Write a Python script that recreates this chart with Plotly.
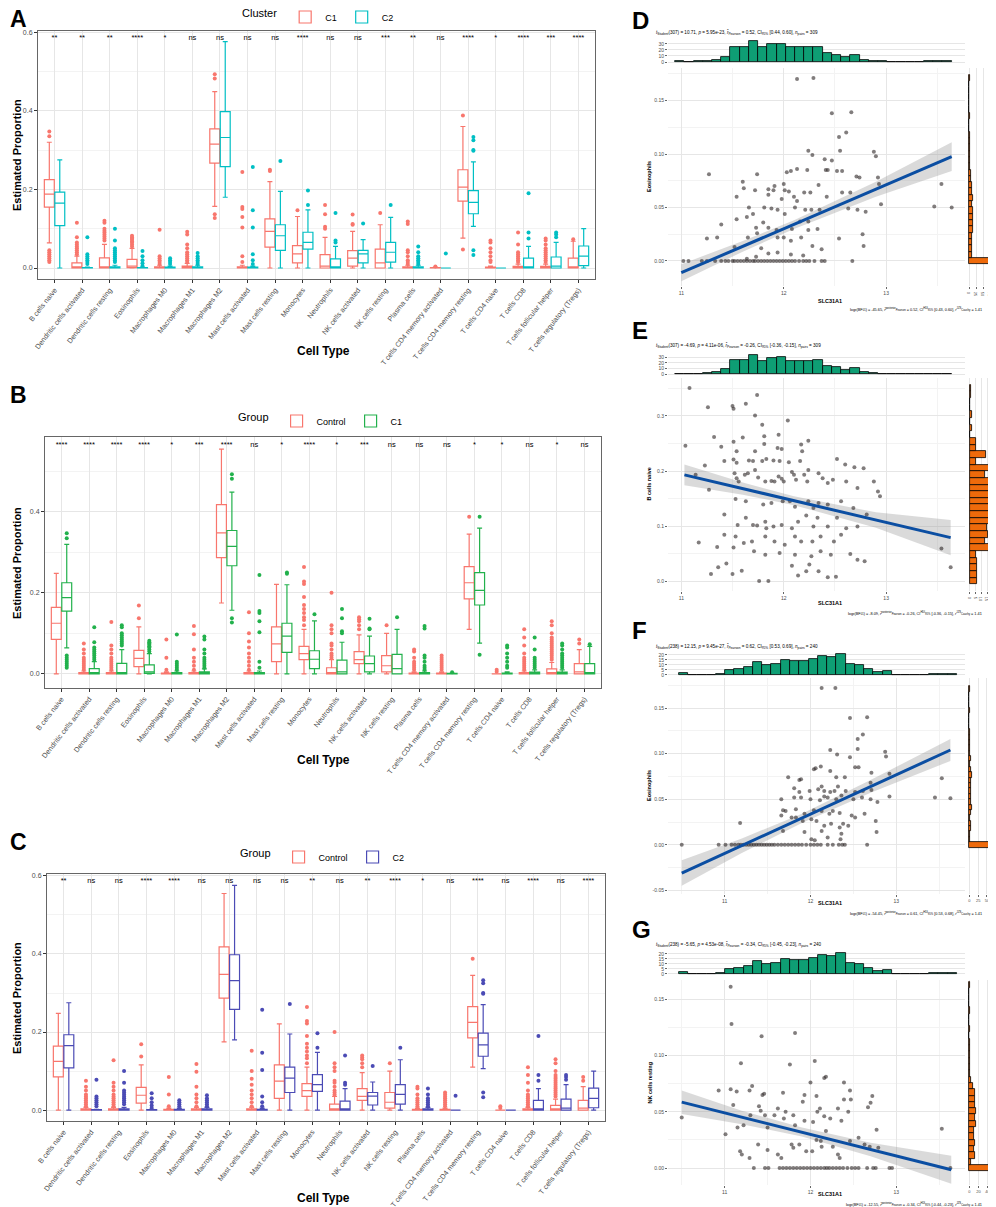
import plotly.graph_objects as go

W, H = 996, 1207
FONT = "Liberation Sans, Arial, sans-serif"

# ---------------- box plot data (A, B, C) ----------------
CELL_TYPES = ["B cells naive", "Dendritic cells activated", "Dendritic cells resting", "Eosinophils",
              "Macrophages M0", "Macrophages M1", "Macrophages M2", "Mast cells activated",
              "Mast cells resting", "Monocytes", "Neutrophils", "NK cells activated", "NK cells resting",
              "Plasma cells", "T cells CD4 memory activated", "T cells CD4 memory resting",
              "T cells CD4 naive", "T cells CD8", "T cells follicular helper", "T cells regulatory (Tregs)"]

SIG_A = ["**", "**", "**", "****", "*", "ns", "ns", "ns", "ns", "****", "ns", "ns", "***", "**", "ns",
         "****", "*", "****", "***", "****"]
SIG_B = ["****", "****", "****", "****", "*", "***", "****", "ns", "*", "****", "*", "***", "ns", "ns", "ns",
         "*", "*", "ns", "*", "ns"]
SIG_C = ["**", "ns", "ns", "****", "****", "ns", "ns", "ns", "ns", "**", "ns", "**", "****", "*", "ns",
         "****", "ns", "****", "ns", "****"]

# quartiles / whiskers per cell type
C1_Q1 = [0.155, 0, 0, 0.001, 0, 0, 0.267, 0, 0.053, 0.013, 0, 0.005, 0, 0, 0, 0.17, 0, 0, 0, 0]
C1_MED = [0.188, 0.003, 0.003, 0.005, 0, 0, 0.315, 0, 0.093, 0.036, 0.005, 0.025, 0.013, 0, 0, 0.206, 0, 0, 0, 0.003]
C1_Q3 = [0.225, 0.013, 0.026, 0.022, 0.003, 0.005, 0.354, 0.003, 0.125, 0.057, 0.034, 0.044, 0.048, 0.003, 0.001,
         0.25, 0.002, 0.004, 0.004, 0.025]
C1_LO = [0.064, 0, 0, 0, 0, 0, 0.157, 0, 0, 0, 0, 0, 0, 0, 0, 0.076, 0, 0, 0, 0]
C1_HI = [0.32, 0.03, 0.06, 0.05, 0.007, 0.012, 0.449, 0.007, 0.22, 0.131, 0.078, 0.093, 0.11, 0.007, 0.002,
         0.36, 0.005, 0.01, 0.01, 0.068]
C1_OUT = [[0.347, 0.335, 0.045, 0.04, 0.035, 0.03, 0.025, 0.02, 0.015],
          [0.115, 0.078, 0.065, 0.06, 0.055, 0.05, 0.045, 0.04, 0.035],
          [0.12, 0.115, 0.1, 0.095, 0.09, 0.085, 0.08, 0.075, 0.07],
          [0.082, 0.078, 0.075, 0.072, 0.068, 0.065, 0.06, 0.055],
          [0.097, 0.03, 0.025, 0.02, 0.015, 0.01],
          [0.092, 0.085, 0.06, 0.05, 0.04, 0.035, 0.03, 0.025, 0.02, 0.015],
          [0.493, 0.482, 0.137, 0.127],
          [0.244, 0.155, 0.15, 0.13, 0.103, 0.03, 0.015],
          [0.25, 0.247],
          [0.147],
          [0.16, 0.137, 0.105, 0.1],
          [0.136, 0.112, 0.11],
          [0.14],
          [0.118, 0.112, 0.045, 0.04, 0.03, 0.02, 0.015, 0.01],
          [0.004],
          [0.388, 0.047],
          [0.07, 0.065, 0.05, 0.04, 0.03, 0.02, 0.015],
          [0.09, 0.06, 0.04, 0.035, 0.03, 0.025, 0.02, 0.015],
          [0.075, 0.07, 0.06, 0.05, 0.045, 0.04, 0.035, 0.03, 0.025, 0.02, 0.015],
          [0.073]]

C2_Q1 = [0.108, 0, 0, 0, 0, 0, 0.258, 0, 0.045, 0.048, 0, 0.013, 0.015, 0, 0, 0.138, 0, 0, 0, 0.006]
C2_MED = [0.165, 0, 0, 0, 0, 0, 0.332, 0, 0.082, 0.065, 0.003, 0.036, 0.04, 0, 0, 0.167, 0, 0.003, 0.005, 0.03]
C2_Q3 = [0.193, 0.001, 0.003, 0.001, 0.002, 0.003, 0.398, 0.002, 0.11, 0.091, 0.023, 0.045, 0.065, 0.003, 0,
         0.197, 0, 0.025, 0.028, 0.056]
C2_LO = [0, 0, 0, 0, 0, 0, 0.18, 0, 0, 0, 0, 0, 0, 0, 0, 0.106, 0, 0, 0, 0]
C2_HI = [0.275, 0.002, 0.007, 0.002, 0.005, 0.007, 0.576, 0.005, 0.195, 0.148, 0.055, 0.072, 0.129, 0.007, 0,
         0.27, 0, 0.055, 0.065, 0.1]
C2_OUT = [[],
          [0.078, 0.035, 0.03, 0.025, 0.02, 0.015, 0.01],
          [0.1, 0.07, 0.05, 0.045, 0.04, 0.035, 0.03, 0.025, 0.02, 0.015],
          [0.043, 0.03, 0.02, 0.012, 0.005],
          [0.025, 0.02, 0.015, 0.01],
          [0.038, 0.03, 0.025, 0.02, 0.015, 0.01],
          [],
          [0.257, 0.147, 0.103, 0.035, 0.02, 0.01],
          [0.272],
          [0.16, 0.197],
          [0.14, 0.07, 0.065],
          [0.113],
          [0.16],
          [0.055, 0.04, 0.03, 0.025, 0.02, 0.015, 0.01],
          [0.037],
          [0.333, 0.325, 0.3, 0.298, 0.045, 0.033],
          [],
          [0.19, 0.09, 0.075],
          [0.09, 0.085, 0.078],
          []]

CTRL_Q1 = [0.085, 0, 0, 0.018, 0, 0, 0.287, 0, 0.03, 0.035, 0, 0.025, 0.005, 0, 0, 0.185, 0, 0, 0, 0]
CTRL_MED = [0.125, 0, 0, 0.038, 0, 0, 0.348, 0, 0.074, 0.05, 0.003, 0.035, 0.02, 0, 0, 0.225, 0, 0, 0.003, 0.005]
CTRL_Q3 = [0.164, 0.003, 0.003, 0.058, 0.002, 0.003, 0.418, 0.003, 0.116, 0.068, 0.015, 0.055, 0.045, 0.002,
           0.002, 0.265, 0, 0.003, 0.012, 0.025]
CTRL_LO = [0, 0, 0, 0, 0, 0, 0.175, 0, 0, 0, 0, 0, 0, 0, 0, 0.11, 0, 0, 0, 0]
CTRL_HI = [0.248, 0.007, 0.007, 0.116, 0.005, 0.007, 0.555, 0.007, 0.221, 0.11, 0.035, 0.096, 0.1, 0.005,
           0.005, 0.345, 0, 0.007, 0.028, 0.06]
CTRL_OUT = [[],
            [0.075, 0.06, 0.05, 0.04, 0.035, 0.03, 0.025, 0.02, 0.015, 0.01],
            [0.128, 0.07, 0.06, 0.05, 0.04, 0.035, 0.03, 0.025, 0.02, 0.015, 0.01],
            [0.169, 0.137],
            [0.085, 0.04, 0.01],
            [0.118, 0.098, 0.06, 0.04, 0.03, 0.02, 0.01],
            [],
            [0.152, 0.1, 0.08, 0.065, 0.05, 0.04, 0.03, 0.02, 0.01],
            [],
            [0.264, 0.228, 0.222, 0.19, 0.17, 0.16, 0.15, 0.14, 0.133, 0.12],
            [0.2, 0.12, 0.11, 0.1, 0.075, 0.07, 0.06, 0.05, 0.045, 0.04],
            [0.14, 0.135, 0.13, 0.12, 0.11],
            [0.12],
            [0.06, 0.055, 0.04, 0.03, 0.025, 0.02, 0.015, 0.01],
            [0.045, 0.04, 0.035, 0.03, 0.025, 0.02, 0.015, 0.01],
            [0.388],
            [0.01, 0.005],
            [0.11, 0.09, 0.07, 0.05, 0.04, 0.035, 0.03, 0.025, 0.02, 0.015, 0.01],
            [0.13, 0.12, 0.1, 0.09, 0.085, 0.08, 0.075, 0.07, 0.065, 0.06, 0.055, 0.05, 0.045, 0.04, 0.035],
            [0.085, 0.075]]

# ---------------- scatter data (D, E, F, G) ----------------
D_X = [12.13, 12.29, 12.47, 12.66, 12.54, 12.61, 12.24, 12.28, 12.47, 12.55, 12.88, 12.90,
       11.27, 11.74, 12.07, 12.03, 12.13, 12.41, 12.43, 12.52, 12.57, 12.40, 12.23,
       11.60, 11.61, 11.54, 11.72, 11.85, 11.91, 11.90, 12.00, 12.01, 12.05, 12.10, 12.13, 12.20, 12.26,
       12.34, 12.42, 12.57, 12.65, 12.71, 12.74, 12.92, 12.93, 12.95,
       12.80, 12.72, 12.63, 12.35, 12.27, 12.21, 11.94, 11.88, 11.81, 11.66,
       11.54, 11.64, 11.80, 11.73, 11.74, 11.65, 11.52, 11.35, 11.25, 11.39,
       11.93, 12.00, 12.08, 12.17, 12.24, 12.33, 12.54, 12.77, 12.78,
       12.37, 12.28, 12.19, 12.07, 11.94, 11.85, 11.78, 11.73, 11.64,
       13.54, 13.47, 13.64,
       11.85, 11.98, 12.11, 12.16, 12.01, 11.70, 11.85, 11.94, 12.07, 12.24]
D_Y = [0.170, 0.171, 0.138, 0.139, 0.116, 0.120, 0.103, 0.099, 0.094, 0.103, 0.102, 0.098,
       0.081, 0.081, 0.084, 0.083, 0.086, 0.085, 0.085, 0.084, 0.084, 0.095, 0.085,
       0.074, 0.068, 0.060, 0.066, 0.067, 0.070, 0.066, 0.072, 0.066, 0.065, 0.060, 0.056, 0.064, 0.064,
       0.071, 0.060, 0.064, 0.064, 0.079, 0.078, 0.078, 0.072, 0.053,
       0.046, 0.048, 0.049, 0.048, 0.048, 0.048, 0.048, 0.049, 0.050, 0.050,
       0.039, 0.041, 0.036, 0.031, 0.026, 0.022, 0.013, 0.022, 0.021, 0.034,
       0.029, 0.022, 0.030, 0.022, 0.029, 0.030, 0.021, 0.025, 0.014,
       0.011, 0.014, 0.005, 0.006, 0.008, 0.007, 0.012, 0.004, 0.002,
       0.072, 0.051, 0.050,
       0.062, 0.058, 0.050, 0.037, 0.044, 0.044, 0.031, 0.022, 0.019, 0.037]
D_ZERO_X = [11.02, 11.07, 11.20, 11.25, 11.33, 11.39, 11.43, 11.46, 11.50, 11.52, 11.55, 11.58, 11.61,
            11.64, 11.67, 11.70, 11.72, 11.75, 11.78, 11.81, 11.84, 11.87, 11.90, 11.93, 11.96, 11.99,
            12.02, 12.05, 12.08, 12.11, 12.15, 12.19, 12.22, 12.25, 12.30, 12.37, 12.40, 12.67]
D_ZERO_Y = [0.0, 0.0, 0.0, 0.0, 0.0, 0.0, 0.0, 0.0, 0.0, 0.0, 0.0, 0.0, 0.0,
            0.0, 0.0, 0.0, 0.0, 0.0, 0.0, 0.0, 0.0, 0.0, 0.0, 0.0, 0.0, 0.0,
            0.0, 0.0, 0.0, 0.0, 0.0, 0.0, 0.0, 0.0, 0.0, 0.0, 0.0, 0.0]

E_X = [11.08, 11.74, 11.26, 11.50, 11.51, 11.63, 11.72, 11.79, 12.04, 11.32, 11.51, 11.60, 11.81, 11.95,
       11.04, 11.39, 11.54, 11.81, 11.94, 11.98, 12.18, 12.24, 12.17, 11.72,
       11.23, 11.42, 11.51, 11.54, 11.66, 11.70, 11.79, 11.83, 11.90, 11.96, 12.05, 12.16, 12.52, 12.60,
       12.69, 12.78,
       11.14, 11.27, 11.52, 11.54, 11.56, 11.62, 11.65, 11.72, 11.75, 11.82, 11.88, 11.91, 11.95, 11.98,
       12.00, 12.08, 12.10, 12.12, 12.20, 12.24, 12.23, 12.34, 12.38, 12.43, 12.48, 12.61, 12.72, 12.88,
       12.92, 12.94,
       11.53, 11.63, 11.80, 11.88, 11.99, 12.06, 12.11, 12.24, 12.29, 12.34, 12.43, 12.56, 12.68, 12.81,
       11.42, 11.55, 11.63, 11.70, 11.74, 11.82, 11.83, 11.90, 11.98, 12.08, 12.14, 12.22, 12.29, 12.33,
       12.43, 12.52, 12.61, 12.72,
       11.42, 11.53, 11.61, 11.69, 11.82, 11.91, 12.01, 12.11, 12.17, 12.28, 12.36, 12.49, 12.56,
       11.17, 11.35, 11.51, 11.71, 11.82, 11.96, 12.11, 12.27, 12.36, 12.46, 12.65, 12.72, 12.79, 13.54,
       11.36, 11.44, 11.29, 11.50, 11.59, 11.76, 11.85, 12.08, 12.14, 12.22, 12.34, 12.43, 12.51, 12.25,
       13.63]
E_Y = [0.351, 0.338, 0.316, 0.318, 0.313, 0.322, 0.301, 0.284, 0.292, 0.262, 0.253, 0.261, 0.263, 0.266,
       0.246, 0.244, 0.236, 0.249, 0.242, 0.240, 0.236, 0.255, 0.248, 0.236,
       0.210, 0.218, 0.221, 0.215, 0.219, 0.218, 0.218, 0.222, 0.219, 0.218, 0.216, 0.218, 0.222, 0.212,
       0.207, 0.205,
       0.193, 0.166, 0.196, 0.187, 0.181, 0.193, 0.196, 0.202, 0.188, 0.181, 0.182, 0.181, 0.190, 0.186,
       0.181, 0.198, 0.193, 0.184, 0.193, 0.202, 0.181, 0.196, 0.187, 0.178, 0.184, 0.181, 0.169, 0.181,
       0.163, 0.154,
       0.149, 0.145, 0.139, 0.142, 0.145, 0.145, 0.135, 0.145, 0.133, 0.142, 0.139, 0.145, 0.133, 0.121,
       0.121, 0.102, 0.115, 0.102, 0.101, 0.108, 0.096, 0.099, 0.102, 0.096, 0.108, 0.119, 0.099, 0.115,
       0.099, 0.115, 0.096, 0.099,
       0.084, 0.081, 0.069, 0.072, 0.081, 0.072, 0.066, 0.081, 0.072, 0.072, 0.081, 0.072, 0.084,
       0.070, 0.062, 0.061, 0.054, 0.048, 0.051, 0.048, 0.045, 0.054, 0.048, 0.049, 0.039, 0.036, 0.059,
       0.025, 0.032, 0.013, 0.013, 0.019, 0.0, 0.0, 0.028, 0.010, 0.018, 0.018, 0.007, 0.008, 0.030,
       0.025]

F_X = [12.13, 12.29, 12.46, 12.66, 12.61, 12.55, 12.23, 12.31, 12.46, 12.55, 12.87, 12.88,
       12.04, 12.06, 12.12, 12.23, 12.30, 12.40, 12.52, 12.56, 12.71, 12.92,
       11.74, 11.87, 11.89, 12.70, 13.53,
       11.81, 11.87, 11.99, 12.09, 12.13, 12.16, 12.23, 12.28, 12.32, 12.41, 12.52, 12.61, 12.71,
       11.66, 11.81, 11.89, 12.00, 12.11, 12.16, 12.20, 12.30, 12.36, 12.50, 12.60, 12.70, 12.78, 12.92,
       13.45, 13.63,
       11.68, 11.71, 11.83, 11.93, 12.04, 12.13, 12.22, 12.26, 12.34, 12.48, 12.63,
       11.18, 11.66, 11.78, 11.83, 11.91, 12.01, 12.07, 12.16, 12.24, 12.34, 12.38, 12.44, 12.52, 12.76,
       12.77,
       11.68, 11.93, 12.01, 12.05, 12.13, 12.20, 12.35, 12.36]
F_Y = [0.172, 0.172, 0.139, 0.140, 0.121, 0.116, 0.104, 0.099, 0.096, 0.105, 0.102, 0.097,
       0.083, 0.084, 0.086, 0.081, 0.074, 0.074, 0.085, 0.085, 0.079, 0.078,
       0.074, 0.071, 0.072, 0.068, 0.073,
       0.062, 0.058, 0.059, 0.061, 0.064, 0.059, 0.058, 0.059, 0.064, 0.059, 0.058, 0.059, 0.060,
       0.050, 0.052, 0.052, 0.050, 0.049, 0.053, 0.052, 0.050, 0.054, 0.050, 0.052, 0.050, 0.047, 0.053,
       0.052, 0.051,
       0.038, 0.037, 0.039, 0.034, 0.038, 0.037, 0.034, 0.037, 0.035, 0.032, 0.034,
       0.024, 0.032, 0.030, 0.030, 0.026, 0.028, 0.026, 0.021, 0.023, 0.019, 0.023, 0.021, 0.030, 0.026,
       0.014,
       0.015, 0.014, 0.006, 0.005, 0.015, 0.008, 0.006, 0.012]
F_ZERO_X = [10.50, 10.93, 11.01, 11.08, 11.12, 11.16, 11.19, 11.22, 11.25, 11.28, 11.31, 11.34, 11.37,
            11.40, 11.43, 11.46, 11.49, 11.52, 11.55, 11.58, 11.62, 11.66, 11.70, 11.74, 11.78, 11.82,
            11.86, 11.90, 11.95, 12.00, 12.04, 12.08, 12.12, 12.20, 12.26, 12.33, 12.37, 12.40, 12.66]
F_ZERO_Y = [0.0, 0.0, 0.0, 0.0, 0.0, 0.0, 0.0, 0.0, 0.0, 0.0, 0.0, 0.0, 0.0,
            0.0, 0.0, 0.0, 0.0, 0.0, 0.0, 0.0, 0.0, 0.0, 0.0, 0.0, 0.0, 0.0,
            0.0, 0.0, 0.0, 0.0, 0.0, 0.0, 0.0, 0.0, 0.0, 0.0, 0.0, 0.0, 0.0]

G_X = [11.07, 11.08, 11.43, 11.82,
       11.19, 11.76, 12.05, 12.18, 12.16,
       12.00, 12.39, 10.93, 11.07, 11.14, 11.29, 11.32, 11.44, 11.46, 11.68, 11.93, 12.07, 12.46, 12.47,
       12.70, 12.72,
       10.50, 11.01, 11.10, 11.15, 11.22, 11.30, 11.40, 11.42, 11.47, 11.50, 11.58, 11.62, 11.69, 11.71,
       11.80, 11.82, 11.91, 11.93, 12.03, 12.08, 12.11, 12.16, 12.23, 12.32, 12.36, 12.39, 12.44, 12.67,
       12.77, 13.53,
       11.18, 11.20, 11.29, 11.39, 11.50, 11.62, 11.66, 11.78, 11.80, 11.87, 11.95, 12.02, 12.07, 12.13,
       12.18, 12.26, 12.32, 12.34, 12.46, 12.56, 12.63, 12.69, 12.79, 12.12]
G_Y = [0.161, 0.128, 0.117, 0.120,
       0.093, 0.092, 0.095, 0.081, 0.080,
       0.076, 0.076, 0.069, 0.070, 0.068, 0.069, 0.073, 0.065, 0.066, 0.067, 0.065, 0.064, 0.069, 0.061,
       0.058, 0.064,
       0.045, 0.030, 0.056, 0.036, 0.038, 0.047, 0.055, 0.051, 0.047, 0.036, 0.047, 0.053, 0.044, 0.050,
       0.047, 0.038, 0.059, 0.042, 0.041, 0.050, 0.053, 0.046, 0.044, 0.053, 0.042, 0.061, 0.050, 0.054,
       0.034, 0.035,
       0.015, 0.012, 0.009, 0.021, 0.016, 0.012, 0.009, 0.021, 0.018, 0.021, 0.015, 0.015, 0.025, 0.019,
       0.033, 0.019, 0.012, 0.009, 0.024, 0.027, 0.021, 0.019, 0.018, 0.024]
G_ZERO_X = [11.34, 11.47, 11.51, 11.64, 11.68, 11.72, 11.76, 11.80, 11.84, 11.88, 11.92, 11.96, 12.00,
            12.04, 12.08, 12.12, 12.16, 12.19, 12.22, 12.26, 12.30, 12.34, 12.38, 12.43, 12.48, 12.52,
            12.56, 12.66, 12.73, 12.76, 12.92, 12.95, 13.63]
G_ZERO_Y = [0.0, 0.0, 0.0, 0.0, 0.0, 0.0, 0.0, 0.0, 0.0, 0.0, 0.0, 0.0, 0.0,
            0.0, 0.0, 0.0, 0.0, 0.0, 0.0, 0.0, 0.0, 0.0, 0.0, 0.0, 0.0, 0.0,
            0.0, 0.0, 0.0, 0.0, 0.0, 0.0, 0.0]

# regression line and 95% band, read at a few x positions
D_FIT_X = [11.0, 11.6, 12.1, 12.9, 13.64]
D_FIT_Y = [-0.011, 0.0137, 0.034, 0.067, 0.0975]
D_CI_LO = [-0.019, 0.0087, 0.030, 0.060, 0.084]
D_CI_HI = [-0.003, 0.0187, 0.038, 0.074, 0.111]
E_FIT_X = [11.03, 11.6, 12.1, 12.9, 13.63]
E_FIT_Y = [0.193, 0.168, 0.146, 0.111, 0.079]
E_CI_LO = [0.174, 0.157, 0.138, 0.097, 0.047]
E_CI_HI = [0.212, 0.179, 0.154, 0.125, 0.111]
F_FIT_X = [10.5, 11.2, 11.9, 12.7, 13.63]
F_FIT_Y = [-0.031, -0.001, 0.029, 0.064, 0.104]
F_CI_LO = [-0.045, -0.009, 0.024, 0.057, 0.092]
F_CI_HI = [-0.017, 0.007, 0.034, 0.071, 0.116]
G_FIT_X = [10.5, 11.2, 11.9, 12.7, 13.64]
G_FIT_Y = [0.0586, 0.0452, 0.0318, 0.0165, -0.0015]
G_CI_LO = [0.048, 0.039, 0.028, 0.0105, -0.014]
G_CI_HI = [0.069, 0.051, 0.036, 0.0225, 0.011]

# marginal histograms: bin start, bin width, counts
TOP_DE_START, TOP_DE_WIDTH = 10.94, 0.09
TOP_DE_COUNTS = [1, 0, 1, 2, 4, 9, 25, 25, 34, 24, 29, 30, 24, 24, 24, 25, 15, 12, 8, 11, 3, 2, 1, 0, 0, 0, 0, 1, 1, 1]
TOP_FG_START, TOP_FG_WIDTH = 10.465, 0.108
TOP_FG_COUNTS = [2, 0, 0, 0, 1, 5, 6, 8, 13, 10, 11, 15, 14, 14, 16, 19, 18, 21, 11, 10, 6, 3, 4, 0, 0, 0, 0, 1, 1, 1]
D_RIGHT_START, D_RIGHT_WIDTH = -0.003, 0.0059
D_RIGHT = [105, 8, 10, 10, 11, 12, 13, 12, 13, 11, 12, 9, 8, 7, 5, 4, 3, 4, 1, 1, 2, 0, 0, 2, 0, 0, 0, 0, 0, 2]
E_RIGHT_START, E_RIGHT_WIDTH = -0.006, 0.0121
E_RIGHT = [6, 6, 6, 6, 5, 18, 13, 16, 15, 19, 19, 20, 23, 24, 25, 21, 13, 19, 5, 14, 5, 5, 0, 2, 0, 2, 0, 0, 1, 1]
F_RIGHT_START, F_RIGHT_WIDTH = -0.003, 0.0059
F_RIGHT = [85, 3, 3, 4, 4, 3, 5, 6, 5, 4, 5, 5, 4, 6, 5, 3, 4, 2, 1, 2, 1, 1, 0, 0, 0, 1, 0, 0, 0, 2]
G_RIGHT_START, G_RIGHT_WIDTH = -0.0028, 0.0056
G_RIGHT = [66, 3, 12, 10, 13, 11, 10, 14, 12, 15, 13, 12, 12, 8, 3, 2, 2, 1, 1, 2, 1, 0, 1, 0, 0, 1, 0, 0, 0, 1]

SUB_D = ("<i>t</i><sub>Student</sub>(307) = 10.71, <i>p</i> = 5.95e-23, <i>r̂</i><sub>Pearson</sub> = 0.52, "
         "CI<sub>95%</sub> [0.44, 0.60], <i>n</i><sub>pairs</sub> = 309")
SUB_E = ("<i>t</i><sub>Student</sub>(307) = -4.69, <i>p</i> = 4.11e-06, <i>r̂</i><sub>Pearson</sub> = -0.26, "
         "CI<sub>95%</sub> [-0.36, -0.15], <i>n</i><sub>pairs</sub> = 309")
SUB_F = ("<i>t</i><sub>Student</sub>(238) = 12.15, <i>p</i> = 9.45e-27, <i>r̂</i><sub>Pearson</sub> = 0.62, "
         "CI<sub>95%</sub> [0.53, 0.69], <i>n</i><sub>pairs</sub> = 240")
SUB_G = ("<i>t</i><sub>Student</sub>(238) = -5.65, <i>p</i> = 4.53e-08, <i>r̂</i><sub>Pearson</sub> = -0.34, "
         "CI<sub>95%</sub> [-0.45, -0.23], <i>n</i><sub>pairs</sub> = 240")
CAP = ("log<sub>e</sub>(BF<sub>01</sub>) = {0}, <i>r̂</i><sup>posterior</sup><sub>Pearson</sub> = {1}, "
       "CI<sup>HDI</sup><sub>95%</sub> [{2}], <i>r</i><sup>JZS</sup><sub>Cauchy</sub> = 1.41")
CAP_D = CAP.format("-45.65", "0.52", "0.43, 0.60")
CAP_E = CAP.format("-8.09", "-0.26", "-0.36, -0.15")
CAP_F = CAP.format("-54.45", "0.61", "0.53, 0.68")
CAP_G = CAP.format("-12.55", "-0.34", "-0.44, -0.23")

RED, TEAL, GREEN, BLUE = "#F8766D", "#00BFC4", "#22B14C", "#4B4BB5"
GRID, GRID_MINOR = "#E6E6E6", "#F3F3F3"

fig = go.Figure()
layout = {}
annotations = []


def dom_x(a, b):
    return [a / W, b / W]


def dom_y(top, bottom):
    return [1 - bottom / H, 1 - top / H]


def note(text, x, y, size, bold=False, xanchor="center", yanchor="middle", angle=0, color="black"):
    if bold:
        text = "<b>" + text + "</b>"
    annotations.append(dict(text=text, x=x / W, y=1 - y / H, xref="paper", yref="paper", showarrow=False,
                            xanchor=xanchor, yanchor=yanchor, textangle=angle,
                            font=dict(size=size, color=color, family=FONT)))


def box_panel(n, series, sig, sig_y, yrange, xpx, ypx, legend_key, legend_title, legend_pos):
    ax = "" if n == 1 else str(n)
    idx = list(range(len(CELL_TYPES)))
    for name, color, q1, med, q3, lo, hi, outs, off in series:
        fig.add_trace(go.Box(x=[i + off for i in idx], q1=q1, median=med, q3=q3, lowerfence=lo, upperfence=hi,
                             width=0.36, name=name, legend=legend_key, line=dict(color=color, width=1.2),
                             fillcolor="rgba(255,255,255,0)", xaxis="x" + ax, yaxis="y" + ax, hoverinfo="skip"))
        ox, oy = [], []
        for i, vals in enumerate(outs):
            ox += [i + off] * len(vals)
            oy += vals
        fig.add_trace(go.Scatter(x=ox, y=oy, mode="markers", marker=dict(color=color, size=4),
                                 showlegend=False, xaxis="x" + ax, yaxis="y" + ax, hoverinfo="skip"))
    fig.add_trace(go.Scatter(x=idx, y=[sig_y] * len(idx), mode="text", text=sig, showlegend=False,
                             textfont=dict(size=7.5, color="black", family=FONT), cliponaxis=False,
                             xaxis="x" + ax, yaxis="y" + ax, hoverinfo="skip"))
    layout["xaxis" + ax] = dict(domain=dom_x(*xpx), anchor="y" + ax, range=[-0.6, len(idx) - 0.4],
                                tickvals=idx, ticktext=CELL_TYPES, tickangle=-52,
                                tickfont=dict(size=7.2, color="#4D4D4D", family=FONT),
                                showgrid=True, gridcolor=GRID, zeroline=False, showline=True, mirror=True,
                                linecolor="#666", linewidth=1, ticks="outside", ticklen=3, tickcolor="#333")
    layout["yaxis" + ax] = dict(domain=dom_y(*ypx), anchor="x" + ax, range=yrange,
                                tickvals=[0, 0.2, 0.4, 0.6], ticktext=["0.0", "0.2", "0.4", "0.6"],
                                tickfont=dict(size=7, color="#4D4D4D", family=FONT),
                                showgrid=True, gridcolor=GRID, zeroline=False, showline=True, mirror=True,
                                linecolor="#666", linewidth=1, ticks="outside", ticklen=3, tickcolor="#333",
                                minor=dict(tickvals=[0.1, 0.3, 0.5], showgrid=True, gridcolor=GRID_MINOR))
    layout[legend_key] = dict(title=dict(text=legend_title, side="left", font=dict(size=11, family=FONT)),
                              orientation="h", x=legend_pos[0] / W, y=1 - legend_pos[1] / H,
                              xanchor="left", yanchor="middle", font=dict(size=9, family=FONT),
                              bgcolor="rgba(0,0,0,0)", itemwidth=30, tracegroupgap=0)


box_panel(1, [("C1", RED, C1_Q1, C1_MED, C1_Q3, C1_LO, C1_HI, C1_OUT, -0.19),
              ("C2", TEAL, C2_Q1, C2_MED, C2_Q3, C2_LO, C2_HI, C2_OUT, 0.19)],
          SIG_A, 0.585, [-0.028, 0.603], (30, 587), (23, 271), "legend", "Cluster", (232, 9))
box_panel(2, [("Control", RED, CTRL_Q1, CTRL_MED, CTRL_Q3, CTRL_LO, CTRL_HI, CTRL_OUT, -0.19),
              ("C1", GREEN, C1_Q1, C1_MED, C1_Q3, C1_LO, C1_HI, C1_OUT, 0.19)],
          SIG_B, 0.566, [-0.035, 0.585], (37, 593), (429, 680), "legend2", "Group", (228, 413))
box_panel(3, [("Control", RED, CTRL_Q1, CTRL_MED, CTRL_Q3, CTRL_LO, CTRL_HI, CTRL_OUT, -0.19),
              ("C2", BLUE, C2_Q1, C2_MED, C2_Q3, C2_LO, C2_HI, C2_OUT, 0.19)],
          SIG_C, 0.587, [-0.028, 0.605], (39, 597), (866, 1113), "legend3", "Group", (230, 849))

for letter, y in [("A", 11), ("B", 387), ("C", 834)]:
    note(letter, 0, y, 23, bold=True, xanchor="left")
for yc in [147, 555, 990]:
    note("Estimated Proportion", 9, yc, 11, bold=True, angle=-90)
for yc in [343, 752, 1190]:
    note("Cell Type", 315, yc, 12, bold=True)


def scatter_panel(base, pts, zero_pts, fit, hist_top, hist_right, geo, ytick, xr, top_r, top_ticks,
                  right_r, right_ticks, texts):
    t, s, r = str(base), str(base + 1), str(base + 2)
    (px, py), (zx, zy) = pts, zero_pts
    fx, fy, flo, fhi = fit
    xdom = dom_x(660, 957)
    rdom = dom_x(960, 993)
    # top histogram
    start, width, counts = hist_top
    fig.add_trace(go.Bar(x=[start + (i + 0.5) * width for i in range(len(counts))], y=counts, width=width,
                         marker=dict(color="#0E9E74", line=dict(color="black", width=0.8)),
                         showlegend=False, xaxis="x" + t, yaxis="y" + t, hoverinfo="skip"))
    # main scatter
    fig.add_trace(go.Scatter(x=fx + fx[::-1], y=fhi + flo[::-1], fill="toself", mode="lines",
                             line=dict(width=0), fillcolor="rgba(150,150,150,0.35)", showlegend=False,
                             xaxis="x" + s, yaxis="y" + s, hoverinfo="skip"))
    fig.add_trace(go.Scatter(x=px + zx, y=py + zy, mode="markers",
                             marker=dict(size=4, color="rgba(45,38,38,0.6)"), showlegend=False,
                             xaxis="x" + s, yaxis="y" + s, hoverinfo="skip"))
    fig.add_trace(go.Scatter(x=fx, y=fy, mode="lines", line=dict(color="#0B4EA2", width=3),
                             showlegend=False, xaxis="x" + s, yaxis="y" + s, hoverinfo="skip"))
    # right histogram
    rstart, rwidth, rcounts = hist_right
    fig.add_trace(go.Bar(y=[rstart + (i + 0.5) * rwidth for i in range(len(rcounts))], x=rcounts,
                         width=rwidth, orientation="h",
                         marker=dict(color="#EE6A0B", line=dict(color="black", width=0.8)),
                         showlegend=False, xaxis="x" + r, yaxis="y" + r, hoverinfo="skip"))

    tfont = dict(size=5, color="#4D4D4D", family=FONT)
    top_y, main_y = geo["top"], geo["main"]
    layout["xaxis" + t] = dict(domain=xdom, anchor="y" + t, range=xr, showticklabels=False, showgrid=False,
                               zeroline=False, ticks="")
    layout["yaxis" + t] = dict(domain=dom_y(*top_y), anchor="x" + t, range=top_r, tickvals=top_ticks,
                               tickfont=tfont, showgrid=True, gridcolor=GRID, zeroline=False, ticks="outside",
                               ticklen=2, tickcolor="#666")
    layout["xaxis" + s] = dict(domain=xdom, anchor="y" + s, range=xr, tickvals=[11, 12, 13], tickfont=tfont,
                               showgrid=True, gridcolor=GRID, zeroline=False, ticks="outside", ticklen=2,
                               tickcolor="#666",
                               minor=dict(tickvals=[10.5, 11.5, 12.5, 13.5], showgrid=True, gridcolor=GRID_MINOR))
    layout["yaxis" + s] = dict(domain=dom_y(*main_y), anchor="x" + s, range=geo["yr"], tickvals=ytick[0],
                               ticktext=ytick[1], tickfont=tfont, showgrid=True, gridcolor=GRID,
                               zeroline=False, ticks="outside", ticklen=2, tickcolor="#666",
                               minor=dict(tickvals=ytick[2], showgrid=True, gridcolor=GRID_MINOR))
    layout["xaxis" + r] = dict(domain=rdom, anchor="y" + r, range=right_r, tickvals=right_ticks,
                               tickfont=dict(size=4, color="#4D4D4D", family=FONT),
                               showgrid=True, gridcolor=GRID, zeroline=False, ticks="outside", ticklen=2,
                               tickcolor="#666")
    layout["yaxis" + r] = dict(domain=dom_y(*main_y), anchor="x" + r, range=geo["yr"], showticklabels=False,
                               showgrid=False, zeroline=False, ticks="")

    letter, ylab, sub, cap = texts
    note(letter, 622, geo["letter"], 24, bold=True, xanchor="left")
    note(sub, 646, geo["sub"], 4.6, xanchor="left")
    note(cap, 976, geo["cap"], 3.8, xanchor="right")
    note("SLC31A1", 822, geo["xt"], 5.5, bold=True)
    note(ylab, 641, (main_y[0] + main_y[1]) / 2, 5.5, bold=True, angle=-90)


scatter_panel(4, (D_X, D_Y), (D_ZERO_X, D_ZERO_Y), (D_FIT_X, D_FIT_Y, D_CI_LO, D_CI_HI),
              (TOP_DE_START, TOP_DE_WIDTH, TOP_DE_COUNTS), (D_RIGHT_START, D_RIGHT_WIDTH, D_RIGHT),
              dict(top=(28, 56), main=(60, 278), yr=[-0.0234, 0.1804], letter=12, sub=24, cap=301, xt=293),
              ([0, 0.05, 0.1, 0.15], ["0.00", "0.05", "0.10", "0.15"], [0.025, 0.075, 0.125, 0.175]),
              [10.87, 13.77], [-3.3, 43], [0, 10, 20, 30], [-5, 115], [0, 25, 50, 75, 100],
              ("D", "Eosinophils", SUB_D, CAP_D))
scatter_panel(7, (E_X, E_Y), ([], []), (E_FIT_X, E_FIT_Y, E_CI_LO, E_CI_HI),
              (TOP_DE_START, TOP_DE_WIDTH, TOP_DE_COUNTS), (E_RIGHT_START, E_RIGHT_WIDTH, E_RIGHT),
              dict(top=(342, 368), main=(370, 583), yr=[-0.018, 0.369], letter=322, sub=337, cap=605, xt=595),
              ([0, 0.1, 0.2, 0.3], ["0.0", "0.1", "0.2", "0.3"], [0.05, 0.15, 0.25, 0.35]),
              [10.87, 13.77], [-3.3, 43], [0, 10, 20, 30], [-1.5, 27], [0, 5, 10, 15, 20, 25],
              ("E", "B cells naive", SUB_E, CAP_E))
scatter_panel(10, (F_X, F_Y), (F_ZERO_X, F_ZERO_Y), (F_FIT_X, F_FIT_Y, F_CI_LO, F_CI_HI),
              (TOP_FG_START, TOP_FG_WIDTH, TOP_FG_COUNTS), (F_RIGHT_START, F_RIGHT_WIDTH, F_RIGHT),
              dict(top=(643, 668), main=(670, 886), yr=[-0.054, 0.183], letter=622, sub=638, cap=905, xt=895),
              ([-0.05, 0, 0.05, 0.1, 0.15], ["-0.05", "0.00", "0.05", "0.10", "0.15"],
               [-0.025, 0.025, 0.075, 0.125, 0.175]),
              [10.34, 13.80], [-1.2, 24], [0, 5, 10, 15, 20], [-4, 90], [0, 25, 50, 75],
              ("F", "Eosinophils", SUB_F, CAP_F))
scatter_panel(13, (G_X, G_Y), (G_ZERO_X, G_ZERO_Y), (G_FIT_X, G_FIT_Y, G_CI_LO, G_CI_HI),
              (TOP_FG_START, TOP_FG_WIDTH, TOP_FG_COUNTS), (G_RIGHT_START, G_RIGHT_WIDTH, G_RIGHT),
              dict(top=(942, 967), main=(972, 1177), yr=[-0.015, 0.167], letter=921, sub=937, cap=1196, xt=1186),
              ([0, 0.05, 0.1, 0.15], ["0.00", "0.05", "0.10", "0.15"], [0.025, 0.075, 0.125]),
              [10.34, 13.80], [-1.2, 24], [0, 5, 10, 15, 20], [-3, 70], [0, 20, 40, 60],
              ("G", "NK cells resting", SUB_G, CAP_G))

fig.update_layout(width=W, height=H, margin=dict(l=0, r=0, t=0, b=0, autoexpand=False),
                  paper_bgcolor="white", plot_bgcolor="white", font=dict(family=FONT, color="black"),
                  hovermode=False, annotations=annotations, bargap=0, **layout)

fig.write_html("out.html")
